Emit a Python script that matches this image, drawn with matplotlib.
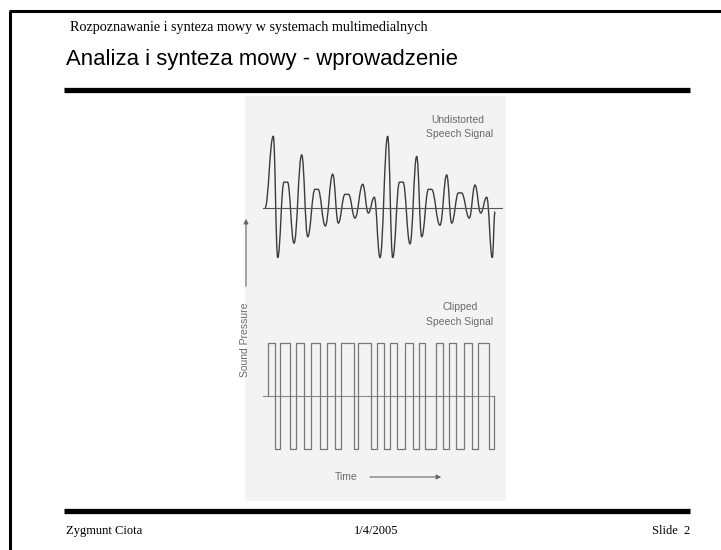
import numpy as np
import matplotlib
matplotlib.use("Agg")
import matplotlib.pyplot as plt
from matplotlib.path import Path
from matplotlib.patches import PathPatch

# slide texts
header_text = "Rozpoznawanie i synteza mowy w systemach multimedialnych"
title_text = "Analiza i synteza mowy - wprowadzenie"
footer_left = "Zygmunt Ciota"
footer_mid = "1/4/2005"
footer_right = "Slide  2"

# undistorted speech signal: turning points, time (arbitrary units) and relative sound pressure
speech_t = [2, 10.3, 14.7, 21, 24.5, 31, 38.7, 44.7, 52, 55, 62.3, 69.7, 75.3,
            82, 85.5, 92, 99.7, 105.3, 111.3, 117, 124.7, 129.7, 136.5, 140,
            147, 153.7, 158.7, 165.5, 168.5, 177, 183.7, 188.7, 195.5, 198.5,
            206.3, 212, 217.7, 223.7, 229.3, 232]
speech_p = [0, 1.00, -0.69, 0.36, 0.36, -0.49, 0.74, -0.40, 0.26, 0.26, -0.25,
            0.47, -0.21, 0.19, 0.19, -0.14, 0.33, -0.07, 0.15, -0.69, 1.00,
            -0.69, 0.36, 0.36, -0.50, 0.72, -0.40, 0.26, 0.26, -0.24, 0.46,
            -0.21, 0.21, 0.21, -0.14, 0.32, -0.07, 0.15, -0.69, -0.05]

# clipped speech signal: switching times (rise, fall, rise, ...) and end time
clip_rise = [5, 17, 33, 48, 64, 78, 95, 114, 127, 142, 156, 173, 186, 201, 215]
clip_fall = [12, 27, 41, 57, 72, 91, 108, 121, 134, 150, 162, 180, 193, 209, 226]
clip_end = 231

W, H = 721, 550
fig = plt.figure(figsize=(W / 100, H / 100), dpi=100)

# page layer in pixel coordinates
page = fig.add_axes([0, 0, 1, 1])
page.set_xlim(0, W)
page.set_ylim(H, 0)
page.axis("off")

# slide frame
page.plot([10, 10], [550, 11], color="black", lw=2.2, solid_capstyle="butt")
page.plot([9, 721], [11, 11], color="black", lw=2.2, solid_capstyle="butt")

# scanned picture background
page.add_patch(plt.Rectangle((245, 96), 261, 405, facecolor="#f3f3f3",
                             edgecolor="none"))

# rules
page.plot([64, 690], [90, 90], color="black", lw=3.8, solid_capstyle="butt")
page.plot([64, 690], [511, 511], color="black", lw=3.8, solid_capstyle="butt")

serif = ["Liberation Serif", "DejaVu Serif"]
sans = ["Liberation Sans", "DejaVu Sans"]
page.text(70, 27, header_text, family=serif, fontsize=10.2, va="center", ha="left")
page.text(66, 59, title_text, family=sans, fontsize=15.9, va="center", ha="left")
page.text(66, 531, footer_left, family=serif, fontsize=9, va="center", ha="left")
page.text(376, 531, footer_mid, family=serif, fontsize=9, va="center", ha="center")
page.text(690, 531, footer_right, family=serif, fontsize=9, va="center", ha="right")

# labels inside scanned picture
lab = dict(family=sans, fontsize=7.5, color="#6a6a6a", ha="center", va="center")
page.text(458, 120, "Undistorted", **lab)
page.text(460, 134, "Speech Signal", **lab)
page.text(460, 307, "Clipped", **lab)
page.text(460, 322, "Speech Signal", **lab)
page.text(245, 340, "Sound Pressure", rotation=90, **lab)
page.text(346, 477, "Time", **lab)
page.annotate("", xy=(246, 216), xytext=(246, 289),
              arrowprops=dict(arrowstyle="-|>", color="#666666", lw=0.8,
                              mutation_scale=7))
page.annotate("", xy=(444, 477), xytext=(367, 477),
              arrowprops=dict(arrowstyle="-|>", color="#666666", lw=0.8,
                              mutation_scale=7))

# undistorted signal, drawn as smooth half waves between turning points
ax1 = fig.add_axes([263 / W, 1 - 287 / H, 240 / W, 158 / H])
ax1.set_xlim(0, 240)
ax1.set_ylim(-1.1, 1.1)
ax1.axis("off")
ax1.axhline(0, xmin=0, xmax=239 / 240, color="#555555", lw=0.8)
verts = [(speech_t[0], speech_p[0])]
codes = [Path.MOVETO]
for (t0, p0), (t1, p1) in zip(zip(speech_t[:-1], speech_p[:-1]),
                              zip(speech_t[1:], speech_p[1:])):
    d = (t1 - t0) * 0.42
    verts += [(t0 + d, p0), (t1 - d, p1), (t1, p1)]
    codes += [Path.CURVE4] * 3
ax1.add_patch(PathPatch(Path(verts, codes), facecolor="none",
                        edgecolor="#3c3c3c", lw=1.0))

# clipped signal
ax2 = fig.add_axes([263 / W, 1 - 459.6 / H, 240 / W, 127.2 / H])
ax2.set_xlim(0, 240)
ax2.set_ylim(-1.2, 1.2)
ax2.axis("off")
ax2.axhline(0, xmin=0, xmax=231 / 240, color="#8a8a8a", lw=0.8)
xs, ys = [clip_rise[0]], [0]
for r, f in zip(clip_rise, clip_fall):
    xs += [r, f, f]
    ys += [1, 1, -1]
    nxt = [v for v in clip_rise if v > f]
    xs.append(nxt[0] if nxt else clip_end)
    ys.append(-1)
xs.append(clip_end)
ys.append(0)
ax2.plot(xs, ys, color="#777777", lw=0.9)

fig.savefig("out.png", dpi=100)
